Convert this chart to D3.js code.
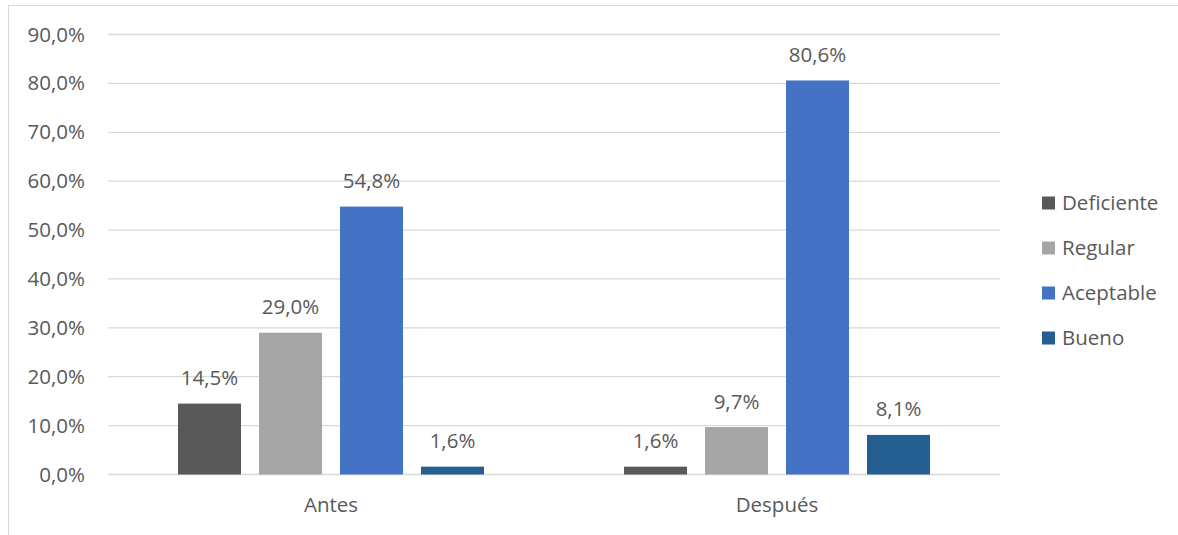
<!DOCTYPE html>
<html><head><meta charset="utf-8">
<script src="https://cdn.jsdelivr.net/npm/d3@7"></script>
<style>body{margin:0;background:#fff}svg{display:block}text{font-family:"Open Sans",sans-serif;fill:#595959}</style>
</head><body><svg id="c" width="1178" height="535"></svg>
<script>
const categories = ["Antes", "Después"];
const seriesNames = ["Deficiente", "Regular", "Aceptable", "Bueno"];
const deficiente = [14.5, 1.6];
const regular = [29.0, 9.7];
const aceptable = [54.8, 80.6];
const bueno = [1.6, 8.1];
const yTicks = [0, 10, 20, 30, 40, 50, 60, 70, 80, 90];
const colors = ["#595959", "#A5A5A5", "#4472C4", "#255E91"];

const seriesValues = [deficiente, regular, aceptable, bueno];
const svg = d3.select("#c");
const fmt = v => v.toFixed(1).replace(".", ",") + "%";
const FS = 20.5;

svg.append("rect").attr("x", 8.5).attr("y", 5.5).attr("width", 1200).attr("height", 600)
  .attr("fill", "none").attr("stroke", "#d9d9d9");

const x0 = d3.scaleBand().domain(categories).range([108, 1000]);
const groupW = 306;
const x1b = d3.scaleBand().domain(seriesNames).range([(x0.bandwidth()-groupW)/2 - 9, (x0.bandwidth()+groupW)/2 + 9]).paddingInner(18/81).paddingOuter(9/81 - 0.0001);
const y = d3.scaleLinear().domain([0, 90]).range([474.5, 34.5]);

const grid = svg.append("g");
grid.selectAll("line").data(yTicks).join("line")
  .attr("x1", 108).attr("x2", 1000).attr("y1", d => y(d)).attr("y2", d => y(d))
  .attr("stroke", "#d9d9d9").attr("stroke-width", 1.3);

const yAxis = svg.append("g").attr("transform", "translate(108,0)")
  .call(d3.axisLeft(y).tickValues(yTicks).tickFormat(fmt).tickSize(0).tickPadding(23));
yAxis.select(".domain").remove();
yAxis.selectAll("text").attr("font-size", FS).style("fill", "#595959").style("font-family", '"Open Sans",sans-serif');

const groups = svg.append("g").selectAll("g").data(categories).join("g")
  .attr("transform", d => `translate(${x0(d)},0)`);
groups.each(function(cat, ci) {
  const g = d3.select(this);
  seriesNames.forEach((s, si) => {
    const v = seriesValues[si][ci];
    g.append("rect").attr("x", x1b(s)).attr("width", x1b.bandwidth())
      .attr("y", y(v)).attr("height", y(0) - y(v)).attr("fill", colors[si]);
    g.append("text").attr("x", x1b(s) + x1b.bandwidth()/2).attr("y", y(v) - 18.5)
      .attr("text-anchor", "middle").attr("font-size", FS).text(fmt(v));
  });
});

const xAxis = svg.append("g").attr("transform", "translate(0,474.5)")
  .call(d3.axisBottom(x0).tickSize(0).tickPadding(23));
xAxis.select(".domain").remove();
xAxis.selectAll("text").attr("font-size", FS).style("fill", "#595959").style("font-family", '"Open Sans",sans-serif');

const leg = svg.append("g").selectAll("g").data(seriesNames).join("g")
  .attr("transform", (d, i) => `translate(1042,${203 + i*45})`);
leg.append("rect").attr("x", 0).attr("y", -6.5).attr("width", 13).attr("height", 13).attr("fill", (d, i) => colors[i]);
leg.append("text").attr("x", 20).attr("y", 0).attr("dy", "0.35em").attr("font-size", FS).text(d => d);
</script></body></html>
